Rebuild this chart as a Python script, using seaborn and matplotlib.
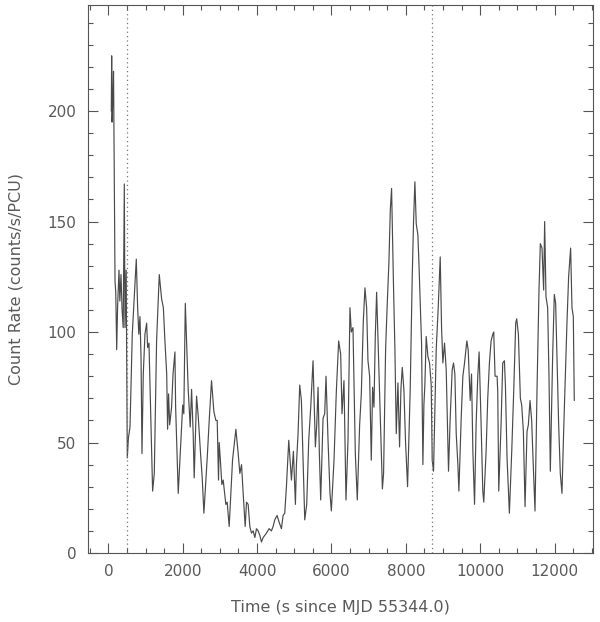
import matplotlib
matplotlib.use("Agg")
import matplotlib.pyplot as plt
from matplotlib.ticker import MultipleLocator
import seaborn as sns
import pandas as pd

# Light curve (time in s since MJD 55344.0, count rate in counts/s/PCU)
time_s = [
    80, 90, 100, 120, 140, 160, 180, 200, 225, 250, 287, 310, 341, 370, 400, 430, 448, 480,
    510, 540, 583, 610, 644, 698, 752, 788, 820, 851, 880, 905, 940, 985, 1030, 1057, 1093,
    1150, 1191, 1236, 1298, 1370, 1433, 1480, 1522, 1570, 1594, 1620, 1650, 1701, 1740, 1791,
    1810, 1880, 1952, 2000, 2030, 2070, 2148, 2202, 2239, 2282, 2309, 2373, 2417, 2480, 2525,
    2570, 2659, 2713, 2775, 2838, 2892, 2928, 2963, 2981, 3017, 3053, 3089, 3160, 3196, 3250,
    3340, 3430, 3492, 3537, 3582, 3626, 3680, 3716, 3760, 3805, 3850, 3895, 3940, 3984, 4029,
    4074, 4118, 4163, 4208, 4252, 4324, 4386, 4431, 4476, 4538, 4592, 4655, 4700, 4744, 4789,
    4852, 4924, 4977, 5031, 5058, 5102, 5147, 5192, 5237, 5282, 5335, 5389, 5443, 5505, 5568,
    5604, 5640, 5675, 5711, 5774, 5818, 5854, 5908, 5961, 5997, 6069, 6131, 6194, 6248, 6284,
    6337, 6391, 6445, 6498, 6534, 6579, 6642, 6695, 6758, 6803, 6857, 6901, 6946, 6982, 7027,
    7071, 7107, 7143, 7179, 7215, 7260, 7300, 7340, 7370, 7402, 7456, 7492, 7546, 7582, 7617,
    7671, 7707, 7743, 7788, 7832, 7868, 7904, 7948, 7993, 8047, 8118, 8172, 8208, 8244, 8280,
    8324, 8351, 8387, 8423, 8459, 8486, 8512, 8548, 8593, 8638, 8683, 8710, 8745, 8817, 8871,
    8925, 8961, 8996, 9041, 9086, 9148, 9193, 9247, 9283, 9319, 9355, 9400, 9427, 9489, 9534,
    9579, 9641, 9677, 9731, 9767, 9803, 9848, 9890, 9935, 9971, 10025, 10070, 10096, 10159,
    10203, 10248, 10293, 10338, 10364, 10400, 10454, 10472, 10499, 10561, 10606, 10651, 10678,
    10722, 10785, 10848, 10901, 10955, 10982, 11027, 11080, 11116, 11161, 11206, 11259, 11295,
    11340, 11384, 11420, 11474, 11527, 11581, 11617, 11662, 11706, 11733, 11769, 11814, 11850,
    11886, 11948, 11993, 12029, 12065, 12110, 12154, 12199, 12244, 12280, 12333, 12378, 12432,
    12468, 12504, 12530,
]
count_rate = [
    200, 225, 195, 205, 218, 170, 123, 118, 92, 112, 128, 114, 126, 110, 102, 167, 102, 128,
    43, 52, 57, 75, 99, 116, 133, 111, 99, 107, 88, 45, 81, 99, 104, 93, 95,
    55, 28, 36, 96, 126, 115, 111, 96, 81, 56, 72, 58, 66, 81, 91,
    66, 27, 51, 67, 63, 113, 74, 57, 74, 54, 34, 71, 62, 45, 34,
    18, 43, 60, 78, 64, 60, 60, 33, 50, 41, 31, 33, 22, 23, 12,
    42, 56, 45, 36, 40, 27, 12, 23, 22, 12, 9, 10, 7, 11, 10,
    8, 5, 7, 8, 9, 11, 10, 12, 15, 17, 14, 11, 17, 18, 30,
    51, 33, 46, 22, 40, 54, 76, 69, 42, 15, 22, 51, 66, 87, 48,
    58, 75, 45, 24, 61, 63, 80, 51, 27, 19, 42, 73, 96, 90, 63,
    78, 24, 51, 111, 100, 102, 45, 24, 58, 72, 105, 120, 111, 87, 80,
    42, 75, 66, 98, 118, 92, 70, 45, 29, 36, 92, 109, 132, 155, 165,
    119, 92, 54, 77, 48, 74, 84, 74, 50, 30, 74, 125, 150, 168, 149,
    144, 132, 114, 95, 40, 67, 76, 98, 89, 86, 76, 42, 37, 92, 111,
    134, 102, 86, 95, 83, 37, 61, 83, 86, 81, 54, 40, 28, 61, 80,
    86, 96, 92, 69, 81, 46, 22, 58, 80, 91, 58, 28, 23, 46,
    70, 86, 96, 99, 100, 80, 80, 73, 28, 58, 86, 87, 76,
    43, 18, 46, 73, 104, 106, 99, 70, 67, 55, 21, 55, 58,
    69, 60, 43, 19, 73, 119, 140, 138, 119, 150, 116, 111, 80,
    37, 89, 117, 113, 89, 58, 36, 27, 55, 75, 104, 125, 138,
    111, 107, 69,
]
marker_times = [500, 8710]

xlabel = "Time (s since MJD 55344.0)"
ylabel = "Count Rate (counts/s/PCU)"

sns.set_style("ticks")
plt.rcParams["font.family"] = ["DejaVu Sans"]

TXT = "#5a5a5a"
AX = "#555555"

fig = plt.figure(figsize=(6.0, 6.22), dpi=100)
ax = fig.add_axes([87.5 / 600, (622 - 553) / 622, 505 / 600, 548 / 622])

df = pd.DataFrame({"t": time_s, "rate": count_rate})
sns.lineplot(data=df, x="t", y="rate", ax=ax, color="#4a4a4a", linewidth=0.85,
             estimator=None, sort=False)

for mt in marker_times:
    ax.axvline(mt, color="#777777", linestyle=(0, (1, 2.5)), linewidth=0.9)

ax.set_xlim(-560, 13020)
ax.set_ylim(0, 248)

ax.xaxis.set_major_locator(MultipleLocator(2000))
ax.xaxis.set_minor_locator(MultipleLocator(500))
ax.yaxis.set_major_locator(MultipleLocator(50))
ax.yaxis.set_minor_locator(MultipleLocator(10))

ax.tick_params(which="both", direction="in", top=True, right=True, color=AX, width=0.8)
ax.tick_params(which="major", length=7.2, labelsize=11, labelcolor=TXT, pad=8)
ax.tick_params(which="minor", length=3.6)

for s in ax.spines.values():
    s.set_color(AX)
    s.set_linewidth(0.8)

ax.set_xlabel(xlabel, fontsize=11.5, color=TXT, labelpad=15)
ax.set_ylabel(ylabel, fontsize=11.5, color=TXT, labelpad=17)

fig.savefig("out.png", dpi=100)
